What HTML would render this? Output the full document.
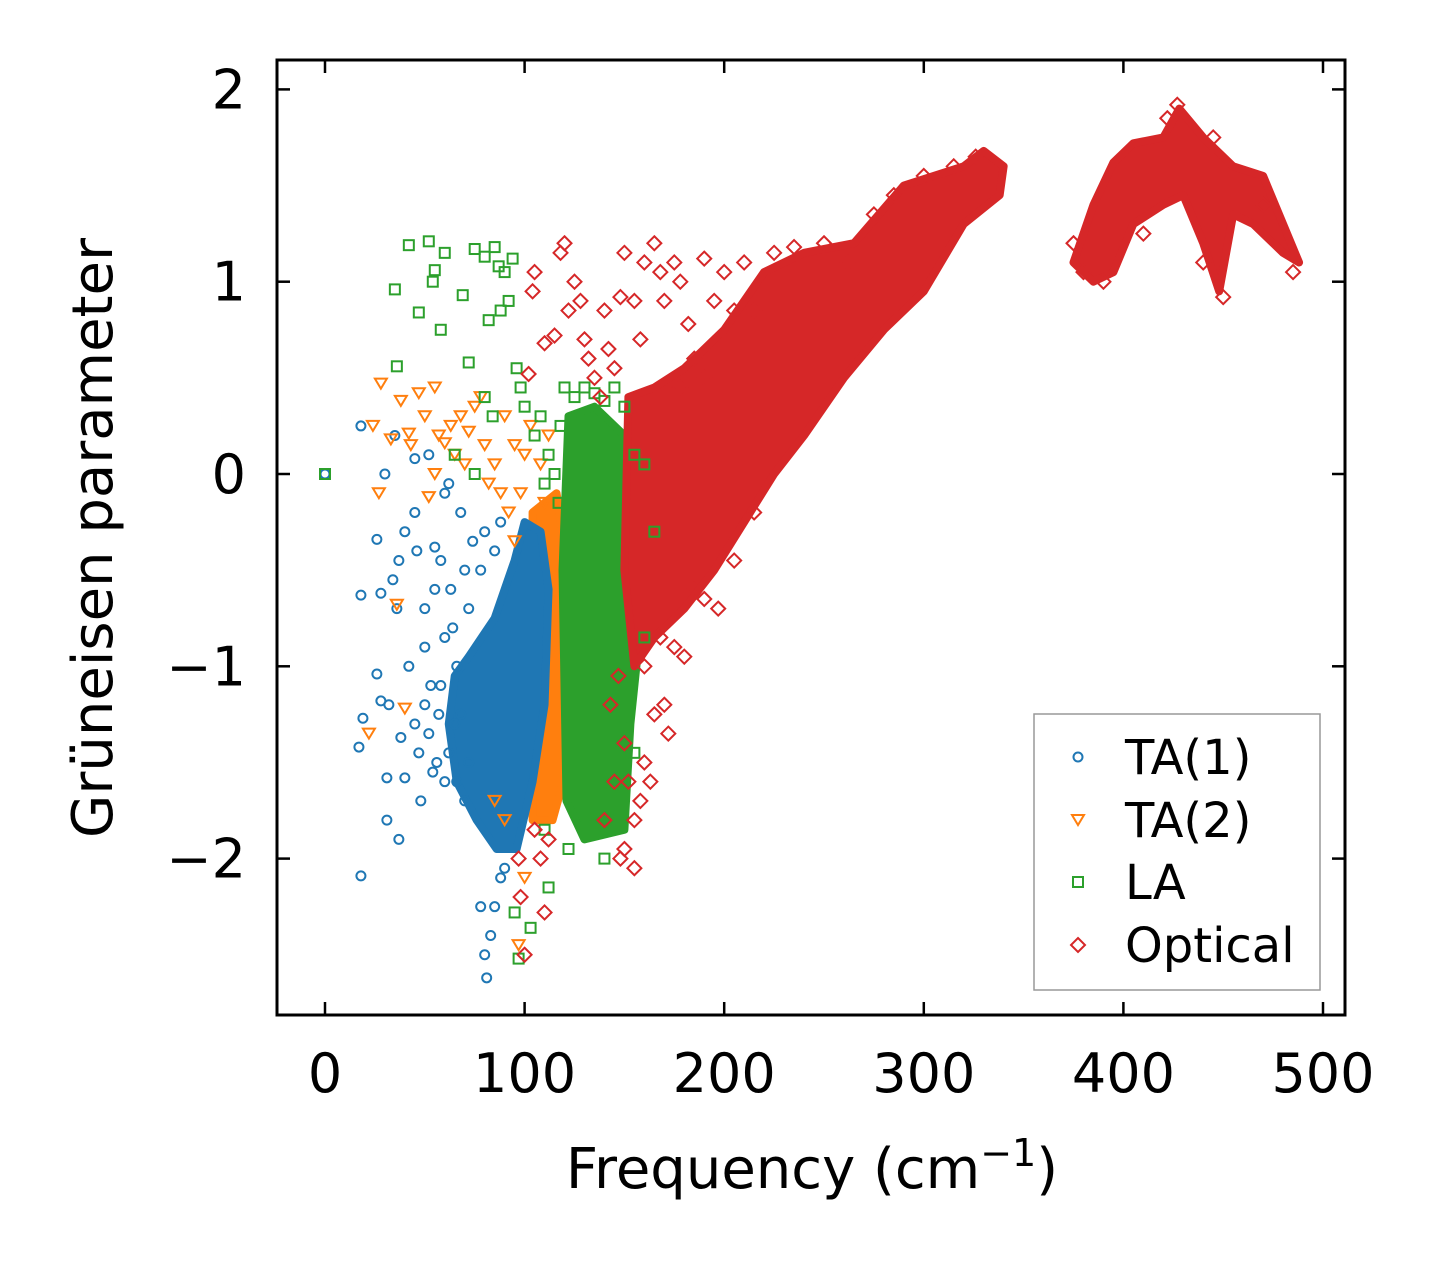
<!DOCTYPE html>
<html><head><meta charset="utf-8"><style>
body{margin:0;background:#fff;}
svg text{font-family:"DejaVu Sans","Liberation Sans",sans-serif;fill:#000;}
</style></head><body>
<svg id="chart" width="1438" height="1264" xmlns="http://www.w3.org/2000/svg">
<rect x="0" y="0" width="1438" height="1264" fill="#fff"/>
<g id="marks"></g>
<rect x="277" y="60" width="1068" height="955" fill="none" stroke="#000" stroke-width="3"/>
<g id="axes"></g>
<text x="812" y="1188" font-size="56" text-anchor="middle">Frequency (cm<tspan font-size="38" dy="-22">−1</tspan><tspan dy="22">)</tspan></text>
<text transform="translate(112,538) rotate(-90)" font-size="56" text-anchor="middle">Grüneisen parameter</text>
<g>
<rect x="1034" y="714" width="286" height="276" fill="#fff" stroke="#999" stroke-width="1.5"/>
<circle cx="1078" cy="757" r="4.5" fill="none" stroke="#1f77b4" stroke-width="2"/>
<text x="1125" y="774" font-size="48">TA(1)</text>
<path d="M1072,815 L1084,815 L1078,825 Z" fill="none" stroke="#ff7f0e" stroke-width="2"/>
<text x="1125" y="837" font-size="48">TA(2)</text>
<rect x="1073" y="877" width="10" height="10" fill="none" stroke="#2ca02c" stroke-width="2"/>
<text x="1125" y="899" font-size="48">LA</text>
<path d="M1078,938 L1085,945 L1078,952 L1071,945 Z" fill="none" stroke="#d62728" stroke-width="2"/>
<text x="1125" y="962" font-size="48">Optical</text>
</g>
</svg>
<script>
const xTicks=[0,100,200,300,400,500];
const yTicks=[2,1,0,-1,-2];
const yTickLabels=["2","1","0","−1","−2"];
// dense envelopes [freq, gamma]
const ta1Dense=[[72,-0.95],[85,-0.75],[95,-0.45],[100,-0.25],[108,-0.3],[112,-0.6],[110,-1.2],[104,-1.6],[96,-1.95],[86,-1.95],[76,-1.8],[66,-1.6],[62,-1.3],[65,-1.05]];
const ta2Dense=[[104,-0.2],[116,-0.1],[122,-0.5],[125,-1.0],[122,-1.5],[114,-1.8],[104,-1.8]];
const laDense=[[122,0.3],[135,0.35],[150,0.2],[155,-0.2],[158,-0.8],[153,-1.3],[150,-1.85],[130,-1.9],[121,-1.7],[119,-0.5]];
const optDense1=[[152,0.4],[165,0.45],[180,0.55],[200,0.75],[220,1.05],[240,1.15],[265,1.2],[290,1.5],[320,1.6],[330,1.68],[340,1.6],[338,1.45],[320,1.3],[300,0.95],[280,0.75],[260,0.5],[240,0.2],[225,0.0],[210,-0.25],[195,-0.5],[180,-0.7],[165,-0.85],[155,-1.0],[150,-0.5]];
const optDense2=[[375,1.1],[385,1.4],[395,1.62],[405,1.72],[420,1.75],[428,1.9],[440,1.75],[455,1.6],[470,1.55],[480,1.3],[488,1.1],[480,1.15],[465,1.3],[455,1.35],[448,0.95],[440,1.2],[430,1.45],[420,1.4],[405,1.3],[395,1.05],[385,1.0]];
// scattered points
const ta1Pts=[[0,0],[18,0.25],[18,-0.63],[17,-1.42],[19,-1.27],[18,-2.09],[26,-0.34],[26,-1.04],[28,-0.62],[30,0],[31,-1.58],[31,-1.8],[35,0.2],[36,-0.7],[37,-0.45],[37,-1.9],[38,-1.37],[40,-0.3],[40,-1.58],[42,-1.0],[45,-0.2],[45,0.08],[46,-0.4],[48,-1.7],[50,-0.7],[50,-0.9],[52,0.1],[53,-1.1],[55,-0.38],[58,-0.45],[60,-0.1],[62,-0.05],[63,-0.6],[65,-1.3],[68,-0.2],[78,-2.25],[80,-2.5],[81,-2.62],[83,-2.4],[85,-2.25],[88,-2.1],[90,-2.05],[56,-1.5],[60,-1.6],[45,-1.3],[47,-1.45],[50,-1.2],[28,-1.18],[32,-1.2],[34,-0.55],[66,-1.0],[70,-1.7],[64,-0.8],[58,-1.1],[55,-0.6],[60,-0.85],[57,-1.25],[62,-1.45],[66,-1.6],[70,-0.5],[72,-0.7],[74,-0.35],[78,-0.5],[80,-0.3],[85,-0.4],[88,-0.25],[68,-1.25],[72,-1.5],[54,-1.55],[52,-1.35]];
const ta2Pts=[[24,0.25],[22,-1.35],[28,0.47],[27,-0.1],[33,0.18],[36,-0.68],[38,0.38],[40,-1.22],[42,0.21],[43,0.15],[47,0.42],[50,0.3],[52,-0.12],[55,0.45],[57,0.2],[60,0.16],[63,0.25],[65,0.1],[68,0.3],[72,0.22],[75,0.35],[78,0.4],[80,0.15],[85,0.05],[88,-0.1],[90,0.3],[95,0.15],[82,-0.05],[97,-2.45],[100,-2.1],[55,0.0],[70,0.05],[85,-1.7],[90,-1.8],[100,0.1],[103,0.25],[108,0.05],[112,0.2],[98,-0.1],[92,-0.2],[95,-0.35],[110,-0.15]];
const laPts=[[0,0],[35,0.96],[36,0.56],[42,1.19],[47,0.84],[52,1.21],[55,1.06],[54,1.0],[58,0.75],[60,1.15],[69,0.93],[72,0.58],[75,1.17],[80,1.13],[82,0.8],[85,1.18],[87,1.08],[88,0.85],[90,1.05],[92,0.9],[94,1.12],[96,0.55],[98,0.45],[100,0.35],[65,0.1],[75,0.0],[80,0.4],[84,0.3],[95,-2.28],[97,-2.52],[103,-2.36],[110,-1.85],[112,-2.15],[122,-1.95],[140,-2.0],[165,-0.3],[160,0.05],[160,-0.85],[155,-1.45],[105,0.2],[108,0.3],[112,0.1],[115,0.0],[118,0.25],[120,0.45],[125,0.4],[130,0.45],[135,0.42],[140,0.38],[145,0.45],[150,0.35],[155,0.1],[117,-0.15],[110,-0.05]];
const optPts=[[102,0.52],[105,1.05],[104,0.95],[110,0.68],[115,0.72],[118,1.15],[120,1.2],[122,0.85],[125,1.0],[128,0.9],[130,0.7],[132,0.6],[135,0.5],[138,0.4],[140,0.85],[142,0.65],[145,0.55],[148,0.92],[150,1.15],[155,0.9],[158,0.7],[160,1.1],[165,1.2],[168,1.05],[170,0.9],[175,1.1],[178,1.0],[182,0.78],[190,1.12],[200,1.05],[210,1.1],[215,0.85],[97,-2.0],[98,-2.2],[100,-2.5],[105,-1.85],[108,-2.0],[110,-2.28],[112,-1.9],[150,-1.4],[152,-1.6],[155,-1.8],[155,-2.05],[150,-1.95],[148,-2.0],[158,-1.7],[160,-1.5],[163,-1.6],[165,-1.25],[170,-1.2],[172,-1.35],[175,-0.9],[180,-0.95],[185,-0.6],[190,-0.65],[197,-0.7],[145,-1.6],[140,-1.8],[143,-1.2],[147,-1.05],[160,-1.0],[168,-0.85],[380,1.05],[390,1.0],[450,0.92],[427,1.92],[422,1.85],[445,1.75],[485,1.05],[470,1.4],[440,1.1],[410,1.25],[375,1.2],[185,0.6],[195,0.9],[205,0.85],[225,1.15],[235,1.18],[250,1.2],[262,1.1],[275,1.35],[285,1.45],[300,1.55],[315,1.6],[326,1.65],[178,0.45],[190,0.5],[205,-0.45],[215,-0.2]];

const X=v=>325+v*1.996;
const Y=v=>474-v*192.3;
const NS="http://www.w3.org/2000/svg";
const marks=document.getElementById('marks');
const axes=document.getElementById('axes');
function mk(tag,attrs,parent){const e=document.createElementNS(NS,tag);for(const k in attrs)e.setAttribute(k,attrs[k]);parent.appendChild(e);return e;}
function dense(arr,color,name){
  const e=mk('polygon',{points:arr.map(p=>X(p[0])+','+Y(p[1])).join(' '),fill:color,stroke:color,'stroke-width':8,'stroke-linejoin':'round'},marks);
  
  
}
function pts(arr,color,shape,name){
  arr.forEach(p=>{
    const x=X(p[0]),y=Y(p[1]);let e;
    if(shape==='c')e=mk('circle',{cx:x,cy:y,r:4.5},marks);
    else if(shape==='t')e=mk('path',{d:`M${x-6},${y-5} L${x+6},${y-5} L${x},${y+5} Z`},marks);
    else if(shape==='s')e=mk('rect',{x:x-5,y:y-5,width:10,height:10},marks);
    else e=mk('path',{d:`M${x},${y-7} L${x+7},${y} L${x},${y+7} L${x-7},${y} Z`},marks);
    e.setAttribute('fill','none');e.setAttribute('stroke',color);e.setAttribute('stroke-width','2');
    
    
  });
}
dense(ta2Dense,'#ff7f0e','ta2-dense-region');
dense(ta1Dense,'#1f77b4','ta1-dense-region');
dense(laDense,'#2ca02c','la-dense-region');
dense(optDense1,'#d62728','optical-dense-region-low');
dense(optDense2,'#d62728','optical-dense-region-high');
pts(ta1Pts,'#1f77b4','c','ta1-point');
pts(ta2Pts,'#ff7f0e','t','ta2-point');
pts(laPts,'#2ca02c','s','la-point');
pts(optPts,'#d62728','d','optical-point');

xTicks.forEach(v=>{
  const x=X(v);
  const t1=mk('line',{x1:x,x2:x,y1:1015,y2:1002,stroke:'#000','stroke-width':2.5},axes);
  
  
  const t2=mk('line',{x1:x,x2:x,y1:60,y2:73,stroke:'#000','stroke-width':2.5},axes);
  
  
  const l=mk('text',{x:x,y:1092,'font-size':54,'text-anchor':'middle'},axes);l.textContent=v;
  
  
});
yTicks.forEach((v,i)=>{
  const y=Y(v);
  const t1=mk('line',{x1:277,x2:290,y1:y,y2:y,stroke:'#000','stroke-width':2.5},axes);
  
  
  const t2=mk('line',{x1:1332,x2:1345,y1:y,y2:y,stroke:'#000','stroke-width':2.5},axes);
  
  
  const l=mk('text',{x:246,y:y+19,'font-size':54,'text-anchor':'end'},axes);l.textContent=yTickLabels[i];
  
  
});
</script>
</body></html>
